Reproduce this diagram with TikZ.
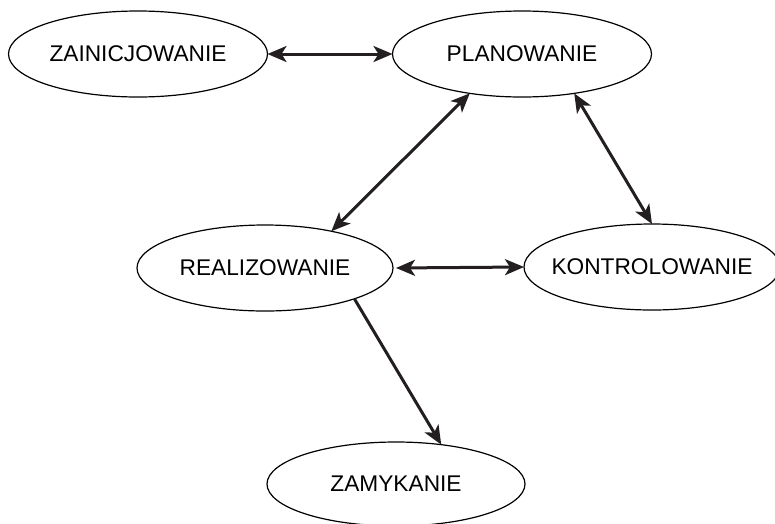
\documentclass[tikz,border=0pt]{standalone}
\usepackage{fontspec}
\setmainfont{Liberation Sans}
\usetikzlibrary{shapes.geometric,arrows.meta}
\definecolor{ink}{HTML}{231F20}
\tikzset{
  stage/.style={draw=black, line width=1.2pt, ellipse, inner sep=0pt, outer sep=0pt,
    minimum width=259pt, minimum height=86pt, fill=white,
    font=\fontsize{22.7}{27}\selectfont},
  tipA/.tip={Stealth[length=19pt,width=16pt,inset=5pt]},
  link/.style={draw=ink, line width=3pt, tipA-tipA},
  onelink/.style={draw=ink, line width=3pt, -tipA}
}
\begin{document}
\begin{tikzpicture}[x=1pt,y=-1pt]
\useasboundingbox (0,0) rectangle (775,523);
\node[stage] (Z) at (138,54) {\makebox[0pt]{ZAINICJOWANIE}};
\node[stage] (P) at (522,54) {\makebox[0pt]{PLANOWANIE}};
\node[stage, minimum width=256pt] (R) at (265,268) {\makebox[0pt]{REALIZOWANIE}};
\node[stage, minimum width=256pt] (K) at (652,267) {\makebox[0pt]{KONTROLOWANIE}};
\node[stage, minimum width=258pt, minimum height=84pt] (M) at (396,484) {\makebox[0pt]{ZAMYKANIE}};
\draw[link] (Z.east) -- (P.west);
\draw[link] (P.217.2) -- (R.29.6);
\draw[link] (P.323.8) -- (K.north);
\draw[link, shorten <=3pt] (R.east) -- (K.west);
\draw[onelink] (R.341.4) -- (M.41.1);
\end{tikzpicture}
\end{document}
